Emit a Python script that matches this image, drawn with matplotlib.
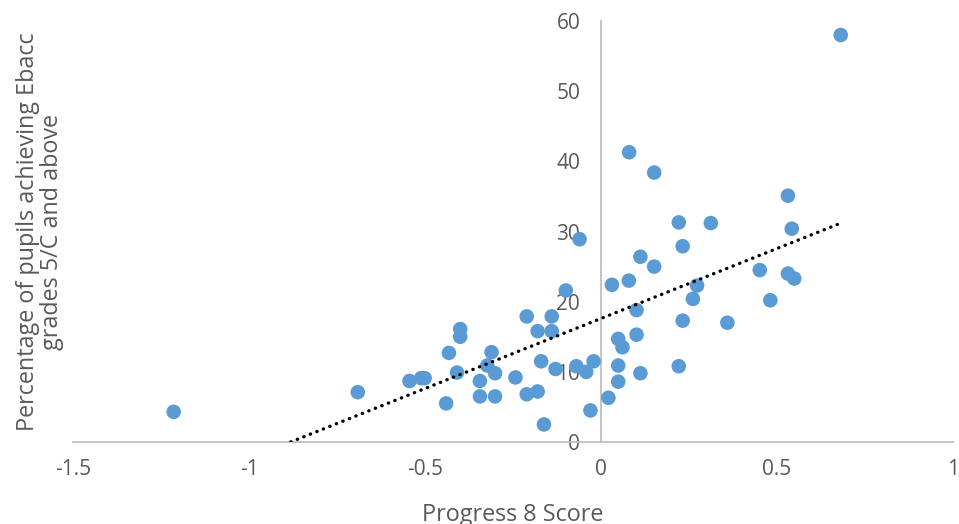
import numpy as np
import matplotlib
matplotlib.use("Agg")
import matplotlib.pyplot as plt
from matplotlib.ticker import FuncFormatter

progress8 = [-1.214, -0.691, -0.544, -0.511, -0.501, -0.440, -0.432, -0.409, -0.400, -0.400,
             -0.344, -0.344, -0.311, -0.323, -0.301, -0.301, -0.243, -0.211, -0.180, -0.162,
             -0.211, -0.180, -0.170, -0.140, -0.140, -0.129, -0.100, -0.070, -0.061, -0.042,
             -0.021, -0.030, 0.021, 0.031, 0.049, 0.049, 0.049, 0.061, 0.079, 0.080,
             0.101, 0.101, 0.112, 0.112, 0.151, 0.151, 0.221, 0.221, 0.232, 0.232,
             0.261, 0.273, 0.312, 0.359, 0.451, 0.481, 0.531, 0.531, 0.542, 0.549, 0.681]
ebacc_pct = [4.3, 7.1, 8.7, 9.1, 9.1, 5.5, 12.7, 9.9, 16.1, 15.0,
             8.7, 6.5, 12.8, 10.9, 9.8, 6.5, 9.2, 6.8, 7.2, 2.5,
             17.9, 15.8, 11.5, 17.9, 15.8, 10.4, 21.6, 10.8, 28.9, 10.0,
             11.5, 4.5, 6.3, 22.4, 14.7, 10.9, 8.6, 13.5, 23.0, 41.3,
             18.8, 15.3, 26.4, 9.8, 38.4, 25.0, 31.3, 10.8, 27.9, 17.3,
             20.4, 22.3, 31.2, 17.0, 24.5, 20.2, 35.1, 24.0, 30.4, 23.3, 58.0]
x_ticks = [-1.5, -1, -0.5, 0, 0.5, 1]
y_ticks = [0, 10, 20, 30, 40, 50, 60]

plt.rcParams['font.family'] = ['Open Sans', 'DejaVu Sans']

fig = plt.figure(figsize=(9.59, 5.24), dpi=100)
ax = fig.add_axes([73/959, 1-442/524, 880/959, 421/524])

x = np.array(progress8)
y = np.array(ebacc_pct)
ax.scatter(x, y, s=110, color='#5B9BD5', edgecolors='none', zorder=3)

m, b = np.polyfit(x, y, 1)
xs = np.array([x.min(), x.max()])
ax.plot(xs, m*xs + b, color='black', lw=2.4, linestyle=(0, (0.1, 2.0)),
        dash_capstyle='round', zorder=4)

ax.set_xlim(-1.5, 1)
ax.set_ylim(0, 60)
ax.set_xticks(x_ticks)
ax.set_yticks(y_ticks)
fmt = FuncFormatter(lambda v, p: f"{v:g}")
ax.xaxis.set_major_formatter(fmt)
ax.yaxis.set_major_formatter(fmt)

for s in ['top', 'right']:
    ax.spines[s].set_visible(False)
ax.spines['left'].set_position(('data', 0))
ax.spines['bottom'].set_position(('data', 0))
for s in ['left', 'bottom']:
    ax.spines[s].set_color('#BFBFBF')
    ax.spines[s].set_linewidth(1.3)

ax.tick_params(axis='both', length=0, labelsize=15, labelcolor='#595959')
ax.tick_params(axis='y', pad=15)
ax.tick_params(axis='x', pad=12)

ax.set_xlabel('Progress 8 Score', fontsize=16.8, color='#595959')
ax.xaxis.set_label_coords(0.5, -0.145)
ax.set_ylabel('Percentage of pupils achieving Ebacc\ngrades 5/C and above',
              fontsize=16.8, color='#595959', linespacing=1.0)
ax.yaxis.set_label_coords(-0.01, 0.5)

fig.savefig('out.png', dpi=100)
